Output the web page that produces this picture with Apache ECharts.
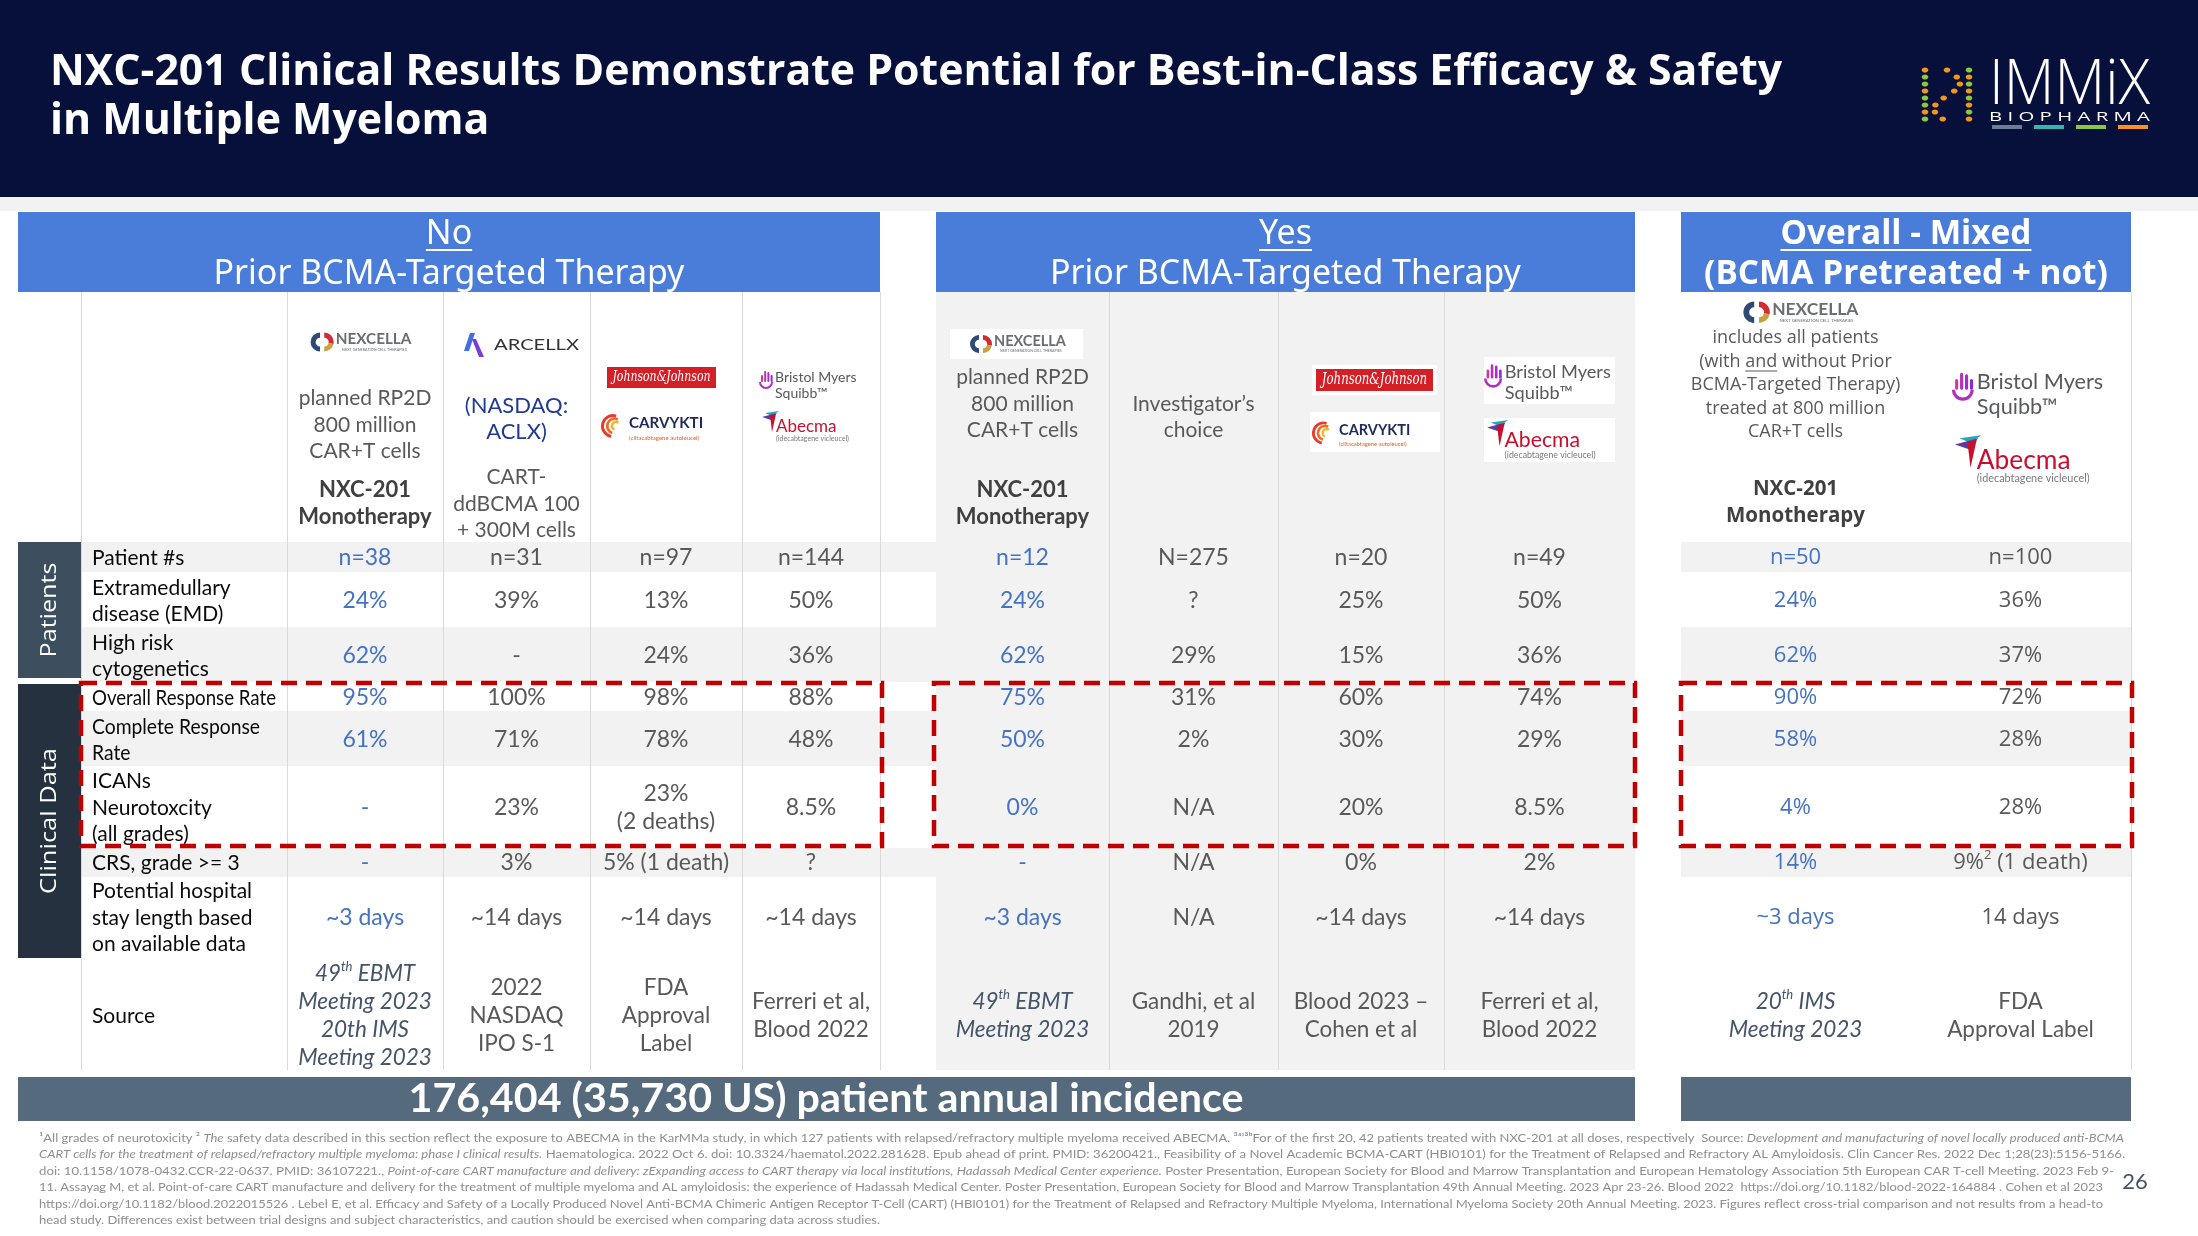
<!DOCTYPE html>
<html>
<head>
<meta charset="utf-8">
<title>NXC-201 Clinical Results</title>
<script src="https://cdn.jsdelivr.net/npm/echarts@6.0.0/dist/echarts.min.js"></script>
<style>
html,body{margin:0;padding:0;background:#ffffff;}
#chart{width:2198px;height:1236px;}
</style>
</head>
<body>
<div id="chart"></div>
<script>
// ======================= DATA =======================
const slideTitle = ['NXC-201 Clinical Results Demonstrate Potential for Best-in-Class Efficacy & Safety', 'in Multiple Myeloma'];
const sectionTitles = [['No', 'Prior BCMA-Targeted Therapy'], ['Yes', 'Prior BCMA-Targeted Therapy'], ['Overall - Mixed', '(BCMA Pretreated + not)']];
const sideBands = ['Patients', 'Clinical Data'];
const rowLabels = [
  'Patient #s',
  'Extramedullary\ndisease (EMD)',
  'High risk\ncytogenetics',
  'Overall Response Rate',
  'Complete Response\nRate',
  'ICANs\nNeurotoxcity\n(all grades)',
  'CRS, grade >= 3',
  'Potential hospital\nstay length based\non available data',
  'Source'
];
const productNotes = [
  'planned RP2D\n800 million\nCAR+T cells', '(NASDAQ:\nACLX)', '', '',
  'planned RP2D\n800 million\nCAR+T cells', 'Investigator\u2019s\nchoice', '', '',
  'includes all patients\n(with and without Prior\nBCMA-Targeted Therapy)\ntreated at 800 million\nCAR+T cells', ''
];
const productNames = [
  'NXC-201\nMonotherapy', 'CART-\nddBCMA 100\n+ 300M cells', '', '',
  'NXC-201\nMonotherapy', '', '', '',
  'NXC-201\nMonotherapy', ''
];
// values per column: Patient #s, EMD, High risk, ORR, CRR, ICANs, CRS>=3, hospital stay
const nxcNoPrior        = ['n=38', '24%', '62%', '95%', '61%', '-', '-', '~3 days'];
const arcellxNoPrior    = ['n=31', '39%', '-', '100%', '71%', '23%', '3%', '~14 days'];
const carvyktiNoPrior   = ['n=97', '13%', '24%', '98%', '78%', '23%\n(2 deaths)', '5% (1 death)', '~14 days'];
const abecmaNoPrior     = ['n=144', '50%', '36%', '88%', '48%', '8.5%', '?', '~14 days'];
const nxcPrior          = ['n=12', '24%', '62%', '75%', '50%', '0%', '-', '~3 days'];
const investigatorPrior = ['N=275', '?', '29%', '31%', '2%', 'N/A', 'N/A', 'N/A'];
const carvyktiPrior     = ['n=20', '25%', '15%', '60%', '30%', '20%', '0%', '~14 days'];
const abecmaPrior       = ['n=49', '50%', '36%', '74%', '29%', '8.5%', '2%', '~14 days'];
const nxcOverall        = ['n=50', '24%', '62%', '90%', '58%', '4%', '14%', '~3 days'];
const abecmaOverall     = ['n=100', '36%', '37%', '72%', '28%', '28%', '9%{sup|2} (1 death)', '14 days'];
const sources = [
  '49{sup|th} EBMT\nMeeting 2023\n20th IMS\nMeeting 2023', '2022\nNASDAQ\nIPO S-1', 'FDA\nApproval\nLabel', 'Ferreri et al,\nBlood 2022',
  '49{sup|th} EBMT\nMeeting 2023', 'Gandhi, et al\n2019', 'Blood 2023 \u2013\nCohen et al', 'Ferreri et al,\nBlood 2022',
  '20{sup|th} IMS\nMeeting 2023', 'FDA\nApproval Label'
];
const incidenceText = '176,404 (35,730 US) patient annual incidence';
const pageNumber = '26';
const footnotes = [
  [['n', '\u00b9All grades of neurotoxicity \u00b2 '], ['i', 'The'], ['n', ' safety data described in this section reflect the exposure to ABECMA in the KarMMa study, in which 127 patients with relapsed/refractory multiple myeloma received ABECMA. \u00b3\u1d43\u02bc\u00b3\u1d47For of the first 20, 42 patients treated with NXC-201 at all doses, respectively  Source: '], ['i', 'Development and manufacturing of novel locally produced anti-BCMA']],
  [['i', 'CART cells for the treatment of relapsed/refractory multiple myeloma: phase I clinical results.'], ['n', ' Haematologica. 2022 Oct 6. doi: 10.3324/haematol.2022.281628. Epub ahead of print. PMID: 36200421., Feasibility of a Novel Academic BCMA-CART (HBI0101) for the Treatment of Relapsed and Refractory AL Amyloidosis. Clin Cancer Res. 2022 Dec 1;28(23):5156-5166.']],
  [['n', 'doi: 10.1158/1078-0432.CCR-22-0637. PMID: 36107221., '], ['i', 'Point-of-care CART manufacture and delivery: zExpanding access to CART therapy via local institutions, Hadassah Medical Center experience.'], ['n', ' Poster Presentation, European Society for Blood and Marrow Transplantation and European Hematology Association 5th European CAR T-cell Meeting. 2023 Feb 9-']],
  [['n', '11. Assayag M, et al. Point-of-care CART manufacture and delivery for the treatment of multiple myeloma and AL amyloidosis: the experience of Hadassah Medical Center. Poster Presentation, European Society for Blood and Marrow Transplantation 49th Annual Meeting. 2023 Apr 23-26. Blood 2022  '], ['n', 'https://doi.org/10.1182/blood-2022-164884'], ['n', ' . Cohen et al 2023']],
  [['n', 'https://doi.org/10.1182/blood.2022015526'], ['n', ' . Lebel E, et al. Efficacy and Safety of a Locally Produced Novel Anti-BCMA Chimeric Antigen Receptor T-Cell (CART) (HBI0101) for the Treatment of Relapsed and Refractory Multiple Myeloma, International Myeloma Society 20th Annual Meeting. 2023. Figures reflect cross-trial comparison and not results from a head-to']],
  [['n', 'head study. Differences exist between trial designs and subject characteristics, and caution should be exercised when comparing data across studies.']]
];

// ======================= LAYOUT (positions / styles) =======================
const W = 2198, H = 1236;
const COLX = [[287, 443], [443, 590], [590, 742], [742, 880], [936, 1109], [1109, 1278], [1278, 1444], [1444, 1635], [1681, 1910], [1910, 2131]];
const ROWY = [[542, 572], [572, 627], [627, 682], [682, 711], [711, 766], [766, 848], [848, 877], [877, 958], [958, 1070]];
const ROW_CY = [558, 601, 656, 698, 740, 808, 863, 918, 1016];
const GRAY_ROWS = [0, 2, 4, 6];
const NOTE_CY = [425, 419, 0, 0, 404, 417, 0, 0, 385, 0];
const NAME_CY = [503, 504, 0, 0, 503, 0, 0, 0, 503, 0];
const HIGHLIGHT_COLS = [0, 4, 8];
const SECTION_BOX = [[18, 880], [936, 1635], [1681, 2131]];
const LABEL_LEFT = 81, LABEL_X = 92, TABLE_TOP = 292, TABLE_BOTTOM = 1070;
const V_LINES = [81, 287, 443, 590, 742, 880, 1109, 1278, 1444, 2131];
const LABEL_FIT = {3: 184, 4: 168};
const FOOT_W = [2085, 2086, 2075, 2064, 2064, 841];
const C = {navy: '#06103a', blue: '#4a7dd9', gray: '#f2f2f2', line: '#d9d9d9', val: '#595959', hi: '#4472c4',
           src: '#44546a', red: '#c00000', slate: '#556b7d', label: '#0a0a0a'};

const mctx = document.createElement('canvas').getContext('2d');
function tw(text, font) { mctx.font = font; return mctx.measureText(text).width; }
function fitPx(text, weight, family, target) { return 40 * target / tw(text, weight + ' 40px ' + family); }

function st(text, font, fill, align, valign, more) {
  return Object.assign({text, x: 0, y: 0, font, fill, align, verticalAlign: valign, textAlign: align, textVerticalAlign: valign}, more || {});
}
function T(x, y, text, font, fill, align, valign, z, more, elMore) {
  return Object.assign({type: 'text', x, y, z: z || 10, style: st(text, font, fill, align || 'left', valign || 'middle', more)}, elMore || {});
}
function R(x, y, w, h, fill, z, more) { return {type: 'rect', z: z || 10, shape: {x, y, width: w, height: h}, style: Object.assign({fill}, more || {})}; }
function SEC(cx, cy, r, r0, a0, a1, fill, z) { return {type: 'sector', z: z || 11, shape: {cx, cy, r, r0, startAngle: a0, endAngle: a1, clockwise: true}, style: {fill}}; }
function POLY(pts, fill, z) { return {type: 'polygon', z: z || 11, shape: {points: pts}, style: {fill}}; }
function LINE(x1, y1, x2, y2, stroke, w, z, more) { return {type: 'line', z: z || 10, shape: {x1, y1, x2, y2}, style: Object.assign({stroke, lineWidth: w}, more || {})}; }

// ---------- logos (decorative) ----------
function nexcella(cx, cy, s) {
  const o = [];
  const x0 = cx - 48 * s, r = 9 * s, r0 = 4.2 * s, icy = cy + 1 * s;
  o.push(SEC(x0 + r, icy, r, r0, Math.PI * 0.5, Math.PI * 1.5, '#2e4a72'));
  o.push(SEC(x0 + r + 4 * s, icy, r, r0, -Math.PI * 0.5, 0.2, '#d12c36'));
  o.push(SEC(x0 + r + 4 * s, icy, r, r0, 0.2, Math.PI * 0.5, '#c8a046'));
  o.push(T(x0 + 24 * s, cy - 1.5 * s, 'NEXCELLA', 'bold ' + (14.5 * s) + 'px Lato', '#6b6d70', 'left', 'middle', 11));
  o.push(T(x0 + 30 * s, cy + 8 * s, 'NEXT GENERATION CELL THERAPIES', (3.6 * s) + 'px Lato', '#6b6d70', 'left', 'middle', 11));
  return o;
}
function arcellx(x0, cy, s) {
  const o = [];
  o.push(POLY([[x0 + 6 * s, cy - 12 * s], [x0 + 11 * s, cy - 12 * s], [x0 + 5 * s, cy + 6 * s], [x0, cy + 6 * s]], '#3f6fe3'));
  o.push(POLY([[x0 + 8 * s, cy - 6 * s], [x0 + 12 * s, cy - 6 * s], [x0 + 20 * s, cy + 12 * s], [x0 + 15 * s, cy + 12 * s]], '#7c3ad6'));
  const f = (16 * s) + 'px Lato';
  o.push(T(x0 + 30 * s, cy, 'ARCELLX', f, '#333333', 'left', 'middle', 11, null, {scaleX: (85 * s) / tw('ARCELLX', f)}));
  return o;
}
function jnj(x0, y0, w, h) {
  const o = [R(x0, y0, w, h, '#d51f26', 11)];
  const f = 'italic ' + (h * 0.72) + 'px "DejaVu Serif"';
  o.push(T(x0 + w / 2, y0 + h / 2, 'Johnson&Johnson', f, '#ffffff', 'center', 'middle', 12, null, {scaleX: (w * 0.9) / tw('Johnson&Johnson', f)}));
  return o;
}
function carvykti(x0, cy, s) {
  const o = [];
  const icx = x0 + 11 * s, icy = cy;
  o.push(SEC(icx, icy, 11 * s, 8.3 * s, Math.PI * 0.55, Math.PI * 1.6, '#e63a2e'));
  o.push(SEC(icx + 1.5 * s, icy, 8 * s, 5.5 * s, Math.PI * 0.6, Math.PI * 1.65, '#f26a21'));
  o.push(SEC(icx + 3 * s, icy, 5 * s, 2.6 * s, Math.PI * 0.65, Math.PI * 1.7, '#f7b52c'));
  o.push(T(x0 + 26 * s, cy - 3 * s, 'CARVYKTI', 'bold ' + (14 * s) + 'px Lato', '#1d2a5b', 'left', 'middle', 11));
  o.push(T(x0 + 26 * s, cy + 11 * s, '(ciltacabtagene autoleucel)', (5.6 * s) + 'px Lato', '#e8612c', 'left', 'middle', 11));
  return o;
}
function bms(x0, cy, s) {
  const o = [];
  const bh = [7, 11, 10, 7], cols = ['#d4349c', '#bc2fb5', '#a52cc8', '#8f2ad2'];
  for (let i = 0; i < 4; i++) {
    o.push({type: 'rect', z: 11, shape: {x: x0 + (2 + i * 3.2) * s, y: cy - (bh[i] + 3) * s, width: 2 * s, height: bh[i] * s, r: 1 * s}, style: {fill: cols[i]}});
  }
  o.push(SEC(x0 + 7 * s, cy - 3 * s, 7 * s, 5 * s, 0, Math.PI, '#b12fbd'));
  o.push(T(x0 + 16 * s, cy - 8 * s, 'Bristol Myers', (14 * s) + 'px Lato', '#58595b', 'left', 'middle', 11));
  o.push(T(x0 + 16 * s, cy + 8 * s, 'Squibb\u2122', (14 * s) + 'px Lato', '#58595b', 'left', 'middle', 11));
  return o;
}
function abecma(x0, cy, s) {
  const o = [];
  o.push(POLY([[x0 + 3 * s, cy - 14 * s], [x0 + 17 * s, cy - 16 * s], [x0 + 10 * s, cy - 11 * s]], '#27a6b5'));
  o.push(POLY([[x0, cy - 10 * s], [x0 + 15 * s, cy - 14 * s], [x0 + 9 * s, cy - 7 * s]], '#5c3a9e'));
  o.push(POLY([[x0 + 8 * s, cy - 12 * s], [x0 + 14 * s, cy - 13 * s], [x0 + 10 * s, cy + 5 * s]], '#c8102e'));
  o.push(T(x0 + 14 * s, cy, 'Abecma', (17 * s) + 'px Lato', '#c8102e', 'left', 'middle', 11));
  o.push(T(x0 + 14 * s, cy + 12 * s, '(idecabtagene vicleucel)', (7 * s) + 'px Lato', '#7a7a7a', 'left', 'middle', 11));
  return o;
}

// ---------- cells ----------
const valueColumns = [nxcNoPrior, arcellxNoPrior, carvyktiNoPrior, abecmaNoPrior, nxcPrior, investigatorPrior, carvyktiPrior, abecmaPrior, nxcOverall, abecmaOverall];
const cells = [];
valueColumns.forEach((col, ci) => col.forEach((txt, ri) => cells.push({col: ci, row: ri, text: txt})));
sources.forEach((txt, ci) => cells.push({col: ci, row: 8, text: txt}));

function frameRender(params, api) {
  const ch = [];
  const P = (x, y) => api.coord([x, y]);
  const box = (x0, y0, x1, y1, fill) => {
    const a = P(x0, y0), b = P(x1, y1);
    ch.push({type: 'rect', shape: {x: a[0], y: a[1], width: b[0] - a[0], height: b[1] - a[1]}, style: {fill}});
  };
  const vl = (x, y0, y1) => {
    const a = P(x, y0), b = P(x, y1);
    const xx = Math.round(a[0]) + 0.5;
    ch.push({type: 'line', shape: {x1: xx, y1: a[1], x2: xx, y2: b[1]}, style: {stroke: C.line, lineWidth: 1}});
  };
  box(SECTION_BOX[1][0], TABLE_TOP, SECTION_BOX[1][1], TABLE_BOTTOM, C.gray);
  GRAY_ROWS.forEach(r => {
    box(LABEL_LEFT, ROWY[r][0], SECTION_BOX[1][0], ROWY[r][1], C.gray);
    box(SECTION_BOX[2][0], ROWY[r][0], SECTION_BOX[2][1], ROWY[r][1], C.gray);
  });
  V_LINES.forEach(x => vl(x, TABLE_TOP, TABLE_BOTTOM));
  return {type: 'group', children: ch};
}

function labelRender(params, api) {
  const i = params.dataIndex;
  const p = api.coord([LABEL_X, ROW_CY[i]]);
  const font = '21px Lato';
  const lines = rowLabels[i].split('\n');
  const maxw = Math.max.apply(null, lines.map(l => tw(l, font)));
  const sx = LABEL_FIT[i] ? LABEL_FIT[i] / maxw : 1;
  return {type: 'text', x: p[0], y: p[1], scaleX: sx, style: st(rowLabels[i], font, C.label, 'left', 'middle', {lineHeight: 26.5})};
}

function headerRender(params, api) {
  const ci = params.dataIndex;
  const cx = (COLX[ci][0] + COLX[ci][1]) / 2;
  const s3 = ci >= 8;
  const ch = [];
  if (productNotes[ci]) {
    const p = api.coord([cx, NOTE_CY[ci]]);
    const font = s3 ? '18px "Open Sans"' : (ci === 1 ? '22px Lato' : '21px Lato');
    ch.push({type: 'text', x: p[0], y: p[1], style: st(productNotes[ci], font, ci === 1 ? '#1f3a93' : C.val, 'center', 'middle', {lineHeight: s3 ? 23.5 : 26.5})});
  }
  if (productNames[ci]) {
    const p = api.coord([cx, NAME_CY[ci]]);
    const bold = ci !== 1;
    const font = bold ? (s3 ? 'bold 20.5px "Open Sans"' : 'bold 22px Lato') : '21px Lato';
    ch.push({type: 'text', x: p[0], y: p[1], style: st(productNames[ci], font, bold ? '#404040' : C.val, 'center', 'middle', {lineHeight: bold ? 27 : 26.5})});
  }
  return {type: 'group', children: ch};
}

function cellRender(params, api) {
  const d = cells[params.dataIndex];
  const x = (COLX[d.col][0] + COLX[d.col][1]) / 2;
  const p = api.coord([x, ROW_CY[d.row]]);
  const s3 = d.col >= 8;
  const isSrc = d.row === 8;
  const hi = HIGHLIGHT_COLS.indexOf(d.col) >= 0;
  const fam = (s3 && !isSrc) ? '"Open Sans"' : 'Lato';
  const size = isSrc ? 22.5 : (s3 ? 22 : 23);
  const italic = isSrc && hi;
  const fill = isSrc ? (hi ? C.src : C.val) : (hi ? C.hi : C.val);
  const font = (italic ? 'italic ' : '') + size + 'px ' + fam;
  return {type: 'text', x: p[0], y: p[1], style: st(d.text, font, fill, 'center', 'middle', {
    lineHeight: 28,
    rich: {sup: {font: (italic ? 'italic ' : '') + Math.round(size * 0.58) + 'px ' + fam, fill, verticalAlign: 'top', lineHeight: 14}}
  })};
}

// ---------- graphic elements ----------
const G = [];
// title band
G.push(R(0, 0, W, 197, C.navy, 5));
G.push(R(0, 197, W, 14, '#f2f2f2', 5));
const titleSize = fitPx(slideTitle[0], 'bold', '"Open Sans"', 1733);
G.push(T(50, 73, slideTitle[0], 'bold ' + titleSize + 'px "Open Sans"', '#ffffff', 'left', 'middle', 6));
G.push(T(50, 122, slideTitle[1], 'bold ' + titleSize + 'px "Open Sans"', '#ffffff', 'left', 'middle', 6));
// IMMiX logo
(function () {
  const cols = ['#8dc63f', '#f7941d'];
  for (let i = 0; i < 8; i++) {
    const y = 70 + i * 7;
    const off = Math.sin(i * 0.85) * 13;
    G.push({type: 'ellipse', z: 6, shape: {cx: 1925, cy: y, rx: 3.3, ry: 2.6}, style: {fill: cols[i % 3 === 0 ? 1 : 0]}});
    G.push({type: 'ellipse', z: 6, shape: {cx: 1947 + off, cy: y, rx: 3.3, ry: 2.6}, style: {fill: cols[1]}});
    G.push({type: 'ellipse', z: 6, shape: {cx: 1969, cy: y, rx: 3.3, ry: 2.6}, style: {fill: cols[i % 2 === 0 ? 0 : 1]}});
  }
  const f = '300 62px "Open Sans"';
  G.push(T(1989, 86, 'IMMiX', f, '#ffffff', 'left', 'middle', 6, null, {scaleX: 161 / tw('IMMiX', f)}));
  const f2 = '13px "Open Sans"';
  G.push(T(1989, 117, 'B I O P H A R M A', f2, '#ffffff', 'left', 'middle', 6, null, {scaleX: 161 / tw('B I O P H A R M A', f2)}));
  const bc = ['#6b7f92', '#33b5b0', '#8dc63f', '#f7941d'];
  for (let i = 0; i < 4; i++) G.push(R(1992 + i * 42, 125, 30, 4, bc[i], 6));
})();

// section header boxes
const hSize = fitPx(sectionTitles[0][1], 'normal', '"Noto Sans"', 471);
const h3Size = fitPx(sectionTitles[2][1], 'bold', '"Open Sans"', 404);
sectionTitles.forEach((t, si) => {
  const x0 = SECTION_BOX[si][0], x1 = SECTION_BOX[si][1], cx = (x0 + x1) / 2;
  G.push(R(x0, 212, x1 - x0, 80, C.blue, 10));
  const font = si === 2 ? 'bold ' + h3Size + 'px "Open Sans"' : hSize + 'px "Noto Sans"';
  G.push(T(cx, 234, t[0], font, '#ffffff', 'center', 'middle', 11));
  G.push(T(cx, 274, t[1], font, '#ffffff', 'center', 'middle', 11));
  const uw = tw(t[0], font);
  G.push(LINE(cx - uw / 2, 250, cx + uw / 2, 250, '#ffffff', 2, 11));
});

// side bands
G.push(R(18, 542, 63, 136, '#3d4e5f', 10));
G.push(R(18, 684, 63, 274, '#25313f', 10));
[[sideBands[0], 610, 95], [sideBands[1], 821, 146]].forEach(b => {
  const f = '22px "Open Sans"';
  G.push(T(50, b[1], b[0], f, '#ffffff', 'center', 'middle', 11, null, {rotation: Math.PI / 2, scaleX: b[2] / tw(b[0], f)}));
});

// logos
nexcella(361, 341, 1.05).forEach(e => G.push(e));
arcellx(464, 345, 1).forEach(e => G.push(e));
jnj(607, 367, 109, 21).forEach(e => G.push(e));
carvykti(601, 426, 1.08).forEach(e => G.push(e));
bms(759, 385, 1).forEach(e => G.push(e));
abecma(762, 427, 1).forEach(e => G.push(e));
// section 2 logos (white boxes)
G.push(R(950, 329, 133, 30, '#ffffff', 10));
nexcella(1018, 343, 1.0).forEach(e => G.push(e));
G.push(R(1312, 365, 125, 30, '#ffffff', 10));
jnj(1316, 369, 117, 22).forEach(e => G.push(e));
G.push(R(1310, 412, 130, 40, '#ffffff', 10));
carvykti(1312, 433, 1.04).forEach(e => G.push(e));
G.push(R(1484, 357, 131, 47, '#ffffff', 10));
bms(1484, 382.5, 1.3).forEach(e => G.push(e));
G.push(R(1484, 418, 131, 44, '#ffffff', 10));
abecma(1487, 440, 1.25).forEach(e => G.push(e));
// section 3 logos
nexcella(1801, 311, 1.2).forEach(e => G.push(e));
bms(1952, 394.5, 1.55).forEach(e => G.push(e));
abecma(1955, 460, 1.55).forEach(e => G.push(e));
// underline "and"
(function () {
  const f = '18px "Open Sans"';
  const l2 = productNotes[8].split('\n')[1];
  const cx = (COLX[8][0] + COLX[8][1]) / 2;
  const sx = cx - tw(l2, f) / 2 + tw('(with ', f);
  const w = tw('and', f);
  G.push(LINE(sx, 371, sx + w, 371, '#595959', 1, 10));
})();

// red dashed highlight boxes
[[81, 882], [934, 1635], [1681, 2132]].forEach(b => {
  G.push({type: 'rect', z: 20, shape: {x: b[0], y: 683, width: b[1] - b[0], height: 163}, style: {fill: 'none', stroke: C.red, lineWidth: 4.5, lineDash: [16, 9]}});
});

// incidence bars
G.push(R(18, 1077, 1617, 44, C.slate, 10));
G.push(R(1681, 1077, 450, 44, C.slate, 10));
(function () {
  const f = 'bold 40px Lato';
  G.push(T(826, 1099, incidenceText, f, '#ffffff', 'center', 'middle', 11, null, {scaleX: 835 / tw(incidenceText, f)}));
})();

// footnotes
(function () {
  const fn = '12px Lato', fi = 'italic 12px Lato';
  const fc = '#8e8e8e';
  footnotes.forEach((segs, i) => {
    let w = 0, txt = '';
    segs.forEach(sg => { w += tw(sg[1], sg[0] === 'i' ? fi : fn); txt += '{' + sg[0] + '|' + sg[1] + '}'; });
    G.push(T(39, 1138 + i * 16.5, txt, fn, fc, 'left', 'middle', 11,
      {rich: {n: {font: fn, fill: fc}, i: {font: fi, fill: fc}}},
      {scaleX: FOOT_W[i] / w}));
  });
})();
G.push(T(2135, 1182, pageNumber, '22px Lato', '#44546a', 'center', 'middle', 11));

// ======================= CHART =======================
const chart = echarts.init(document.getElementById('chart'), null, {renderer: 'canvas', width: W, height: H});
chart.setOption({
  animation: false,
  backgroundColor: '#ffffff',
  grid: {left: 0, right: 0, top: 0, bottom: 0, containLabel: false},
  xAxis: {type: 'value', min: 0, max: W, show: false},
  yAxis: {type: 'value', min: 0, max: H, inverse: true, show: false},
  series: [
    {type: 'custom', name: 'Table frame', z: 1, silent: true, data: [[0, 0]], renderItem: frameRender},
    {type: 'custom', name: 'Row labels', z: 3, silent: true, data: rowLabels.map((l, i) => [0, i]), renderItem: labelRender},
    {type: 'custom', name: 'Product descriptions', z: 3, silent: true, data: productNotes.map((n, i) => [i, 0]), renderItem: headerRender},
    {type: 'custom', name: 'Values', z: 3, silent: true, data: cells.map(c => [c.col, c.row]), renderItem: cellRender}
  ],
  graphic: {elements: G}
});
</script>
</body>
</html>
